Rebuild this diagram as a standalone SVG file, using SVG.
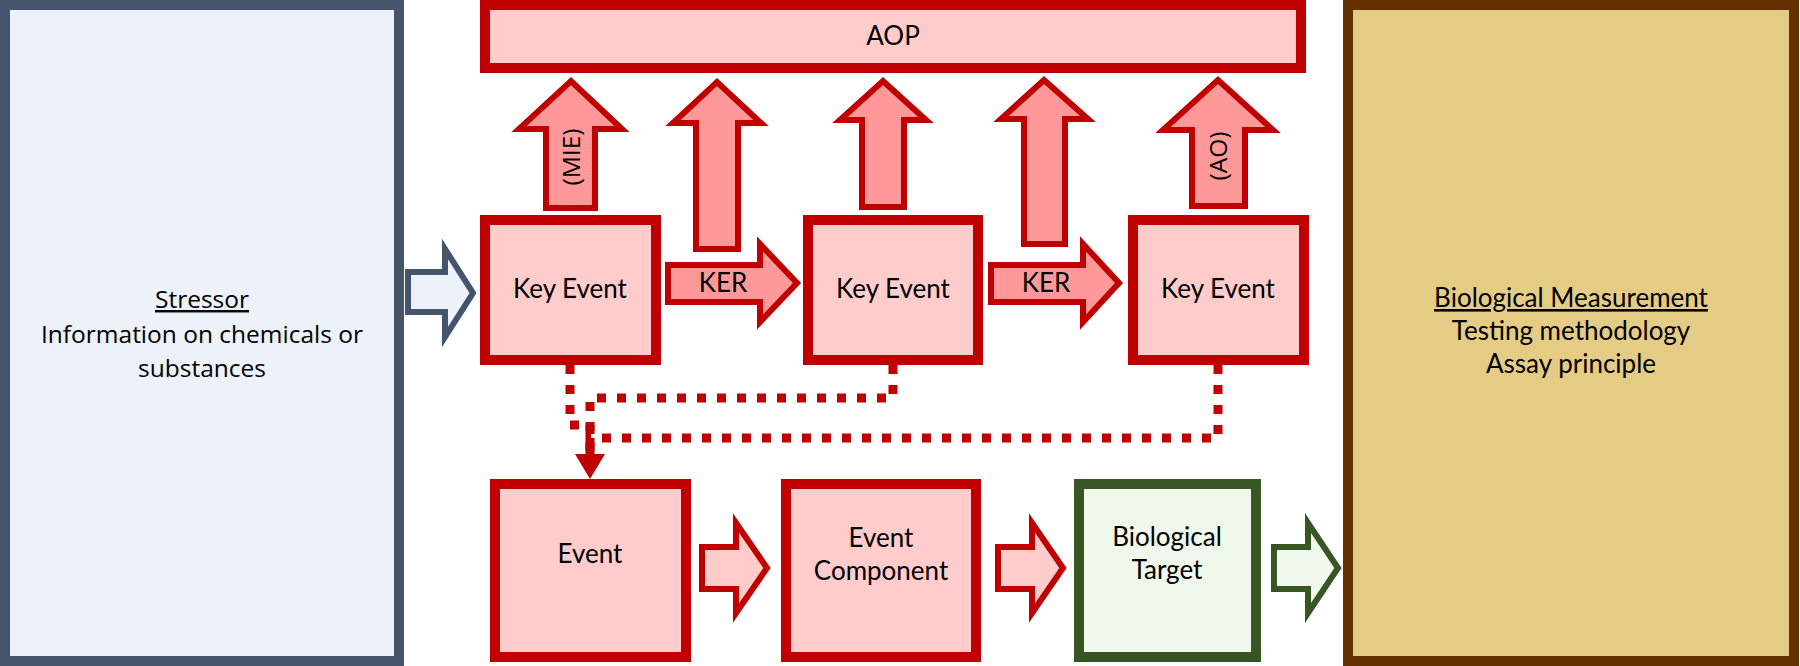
<svg xmlns="http://www.w3.org/2000/svg" width="1800" height="666" viewBox="0 0 1800 666">
<defs>
<style>
.red{fill:#FFCCCC;stroke:#C00000;stroke-width:10}
.uparr{fill:#FF9999;stroke:#C00000;stroke-width:6;stroke-linejoin:miter}
.lowarr{fill:#FFCCCC;stroke:#C00000;stroke-width:6}
.cal{font-family:Lato,"Liberation Sans",sans-serif;font-size:26px;fill:#000;text-anchor:middle}
.seg{font-family:"Open Sans","Liberation Sans",sans-serif;font-size:24.5px;fill:#000;text-anchor:middle}
.dot{fill:none;stroke:#C00000;stroke-width:9;stroke-dasharray:9 11}
</style>
</defs>
<rect width="1800" height="666" fill="#FFFFFF"/>

<g id="stressor">
<rect x="5" y="5" width="394" height="656" fill="#EDF1F9" stroke="#44546A" stroke-width="10"/>
<text class="seg" x="202" y="308" text-decoration="underline">Stressor</text>
<text class="seg" x="202" y="343">Information on chemicals or</text>
<text class="seg" x="202" y="377">substances</text>
</g>

<g id="measurement">
<rect x="1348" y="5" width="446" height="656" fill="#E5CC85" stroke="#633100" stroke-width="10"/>
<text class="cal" x="1571" y="307" text-decoration="underline">Biological Measurement</text>
<text class="cal" x="1571" y="340">Testing methodology</text>
<text class="cal" x="1571" y="373">Assay principle</text>
</g>

<g id="aop">
<rect class="red" x="485" y="5" width="816" height="63"/>
<text class="cal" x="893" y="45">AOP</text>
</g>

<g id="ke1">
<rect class="red" x="485" y="220" width="171" height="140"/>
<text class="cal" x="570" y="298">Key Event</text>
</g>
<g id="ke2">
<rect class="red" x="808" y="220" width="170" height="140"/>
<text class="cal" x="893" y="298">Key Event</text>
</g>
<g id="ke3">
<rect class="red" x="1133" y="220" width="171" height="140"/>
<text class="cal" x="1218" y="298">Key Event</text>
</g>

<g id="event">
<rect class="red" x="495" y="484" width="191" height="173"/>
<text class="cal" x="590" y="563">Event</text>
</g>
<g id="eventcomponent">
<rect class="red" x="786" y="484" width="190" height="173"/>
<text class="cal" x="881" y="547">Event</text>
<text class="cal" x="881" y="580">Component</text>
</g>
<g id="biotarget">
<rect x="1079" y="484" width="177" height="173" fill="#F0F7EB" stroke="#375623" stroke-width="10"/>
<text class="cal" x="1167" y="546">Biological</text>
<text class="cal" x="1167" y="579">Target</text>
</g>

<g id="connectors">
<path class="uparr" d="M546 208V129H519L571 81L622 129H595V208Z"/>
<text class="seg" transform="translate(580 157) rotate(-90)">(MIE)</text>
<path class="uparr" d="M696 249V123H673L717 82L761 123H738V249Z"/>
<path class="uparr" d="M862 207V120H840L883 81L926 120H904V207Z"/>
<path class="uparr" d="M1024 244V119H1001L1044 80L1088 119H1065V244Z"/>
<path class="uparr" d="M1192 206V130H1163L1218 80L1273 130H1245V206Z"/>
<text class="seg" transform="translate(1227 156) rotate(-90)">(AO)</text>

<path class="uparr" d="M668 265H760V244L797 283L760 322V302H668Z"/>
<text class="cal" x="723" y="292">KER</text>
<path class="uparr" d="M991 265H1083V244L1119 283L1083 322V302H991Z"/>
<text class="cal" x="1046" y="292">KER</text>

<path d="M408 272H445V249L473 293L445 337V312H408Z" fill="#EDF1F9" stroke="#44546A" stroke-width="6"/>

<path class="lowarr" d="M702 547H736V523L767 568L736 613V589H702Z"/>
<path class="lowarr" d="M998 547H1032V523L1063 568L1032 613V589H998Z"/>
<path d="M1274 547H1308V523L1338 568L1308 613V589H1274Z" fill="#F0F7EB" stroke="#375623" stroke-width="6"/>

<path class="dot" d="M570 365V425H590V455"/>
<path class="dot" d="M893 365V398H590V455"/>
<path class="dot" d="M1218 365V438H590V455"/>
<polygon points="575,454 605,454 590,479" fill="#C00000"/>
</g>
</svg>
